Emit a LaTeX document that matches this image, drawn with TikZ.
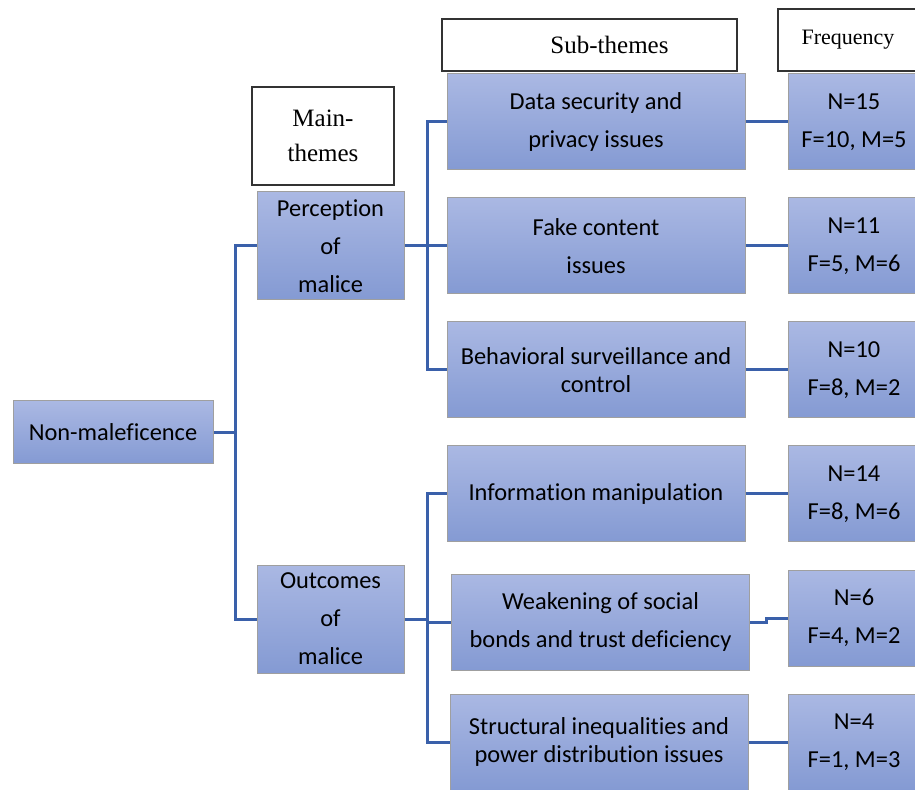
\documentclass[tikz,border=0pt]{standalone}
\usepackage{fontspec}
\setmainfont{Carlito}[Ligatures=NoCommon]
\newfontfamily\headfont{Liberation Serif}
\usetikzlibrary{positioning}
\definecolor{boxtop}{RGB}{170,184,227}
\definecolor{boxbot}{RGB}{132,154,211}
\definecolor{linkblue}{RGB}{58,96,170}
\def\gap{5pt}

\begin{document}
\begin{tikzpicture}[x=0.5pt,y=-0.5pt,font=\fontsize{12.2}{14}\selectfont]
	\tikzstyle{theme}=[draw=gray!75,line width=0.5pt,top color=boxtop,bottom color=boxbot,align=center,inner sep=0pt]
	\tikzstyle{root theme}=[theme,minimum width=100pt,minimum height=31.5pt]
	\tikzstyle{main theme}=[theme,minimum width=73.5pt,minimum height=54pt]
	\tikzstyle{sub theme}=[theme,minimum width=149pt,minimum height=48pt]
	\tikzstyle{freq}=[theme,minimum width=66pt,minimum height=48pt]
	\tikzstyle{head}=[draw=black!80,line width=0.6pt,fill=white,align=center,inner sep=0pt,headfont]
	\tikzstyle{link}=[draw=linkblue,line width=1.5pt]
	\tikzset{headfont/.style={font=\headfont\fontsize{12.5}{17.5}\selectfont}}

	\useasboundingbox (0,0) rectangle (915,790);
	\clip (0,0) rectangle (915,790);

	% Draw the column headers
	\node[head,minimum width=71pt,minimum height=49pt] (H-main) at (323,136) {Main-\\themes};
	\node[head,minimum width=147.5pt,minimum height=26pt] (H-sub) at (589.5,45) {\hspace*{20pt}Sub-themes};
	\node[head,minimum width=70pt,minimum height=31pt,font=\headfont\fontsize{11}{12}\selectfont] (H-freq) at (848,40) {Frequency};

	% Draw the root and the main themes
	\node[root theme] (Root) at (113,432.5) {Non-maleficence};
	\node[main theme] (M-1) at (330.5,246) {Perception\\[\gap]of\\[\gap]malice};
	\node[main theme] (M-2) at (330.5,619) {Outcomes\\[\gap]of\\[\gap]malice};

	% Draw the sub-themes
	\foreach \name / \x / \y / \txt in {
		1/596/122/{Data security and\\[\gap]privacy issues},
		2/596/246/{Fake content\\[\gap]issues},
		3/596/370/{Behavioral surveillance and\\control},
		4/596/494/{Information manipulation},
		5/600.5/622/{Weakening of social\\[\gap]bonds and trust deficiency},
		6/599/742/{Structural inequalities and\\power distribution issues}}
	\node[sub theme] (S-\name) at (\x,\y) {\txt};

	% Draw the frequency boxes
	\foreach \name / \y / \txt in {
		1/122/{N=15\\[\gap]F=10, M=5},
		2/246/{N=11\\[\gap]F=5, M=6},
		3/370/{N=10\\[\gap]F=8, M=2},
		4/494/{N=14\\[\gap]F=8, M=6},
		5/618/{N=6\\[\gap]F=4, M=2},
		6/742/{N=4\\[\gap]F=1, M=3}}
	\node[freq] (F-\name) at (854,\y) {\txt};

	% Connect the root with the main themes
	\coordinate (J-0) at (235,432.5);
	\draw[link] (Root) -- (J-0);
	\foreach \dest in {1,2}
	\draw[link] (J-0) |- (M-\dest);

	% Connect the main themes with their sub-themes
	\coordinate (J-1) at (427,246);
	\coordinate (J-2) at (427,619);
	\draw[link] (M-1) -- (J-1);
	\draw[link] (M-2) -- (J-2);
	\foreach \dest in {1,2,3}
	\draw[link] (J-1) |- (S-\dest);
	\foreach \dest in {4,5,6}
	\draw[link] (J-2) |- (S-\dest);

	% Connect every sub-theme with its frequency
	\foreach \dest in {1,2,3,4,6}
	\draw[link] (S-\dest) -- (F-\dest);
	\draw[link] (S-5.east) -- ++(16,0) |- (F-5.west);
\end{tikzpicture}
\end{document}
